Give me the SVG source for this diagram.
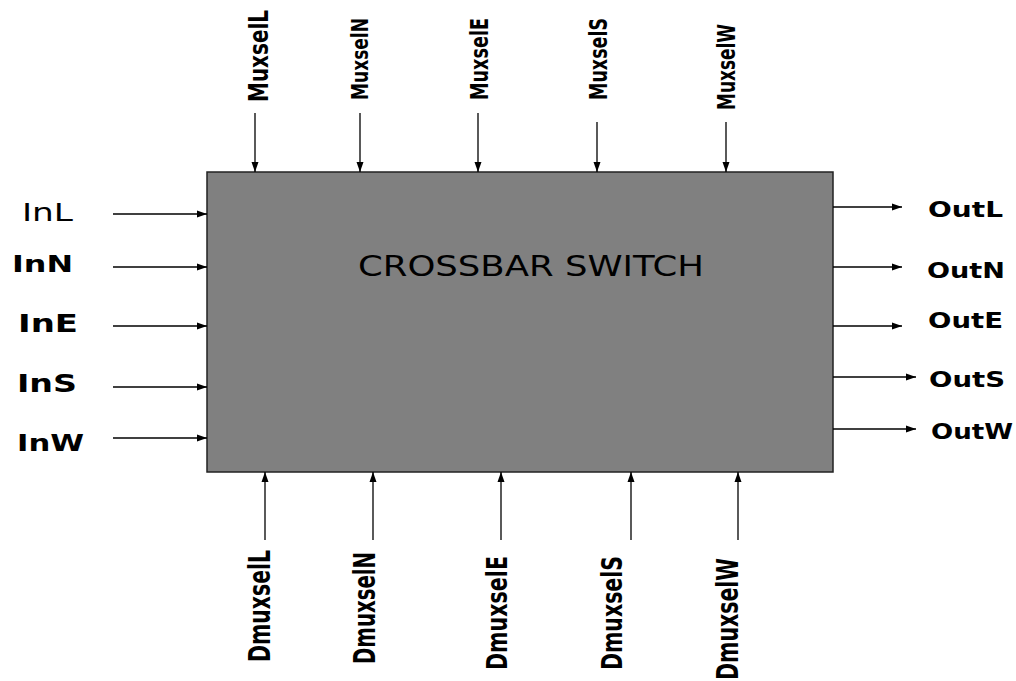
<svg xmlns="http://www.w3.org/2000/svg" width="1016" height="681" viewBox="0 0 1016 681">
<defs>
<marker id="ah" markerUnits="userSpaceOnUse" markerWidth="11" markerHeight="8" refX="10" refY="4" orient="auto">
<path d="M0,0.5 L10,4 L0,7.5 z" fill="#000"/>
</marker>
<style>
.c line{stroke:#000;stroke-width:1.3;marker-end:url(#ah);}
.h{font-family:"DejaVu Sans","Verdana",sans-serif;fill:#000;}
.b{font-weight:bold;}
.v{font-family:"Liberation Sans Narrow","DejaVu Sans Condensed","Liberation Sans",sans-serif;font-weight:bold;fill:#000;text-anchor:middle;}
</style>
</defs>
<rect width="1016" height="681" fill="#fff"/>
<g id="crossbar">
<rect x="207" y="172" width="626" height="300" fill="#808080" stroke="#222" stroke-width="1.5"/>
<text class="h" x="358" y="276" font-size="29" textLength="346" lengthAdjust="spacingAndGlyphs">CROSSBAR SWITCH</text>
</g>
<g class="c" id="connectors">
<line x1="113" y1="214" x2="207" y2="214"/>
<line x1="113" y1="267" x2="207" y2="267"/>
<line x1="113" y1="326" x2="207" y2="326"/>
<line x1="113" y1="387" x2="207" y2="387"/>
<line x1="113" y1="438" x2="207" y2="438"/>
<line x1="833" y1="207" x2="902" y2="207"/>
<line x1="833" y1="267" x2="902" y2="267"/>
<line x1="833" y1="326" x2="902" y2="326"/>
<line x1="833" y1="377" x2="916" y2="377"/>
<line x1="833" y1="429" x2="916" y2="429"/>
<line x1="255" y1="113" x2="255" y2="172"/>
<line x1="360" y1="113" x2="360" y2="172"/>
<line x1="478" y1="113" x2="478" y2="172"/>
<line x1="597" y1="122" x2="597" y2="172"/>
<line x1="726" y1="122" x2="726" y2="172"/>
<line x1="265" y1="540" x2="265" y2="472"/>
<line x1="373" y1="540" x2="373" y2="472"/>
<line x1="501" y1="540" x2="501" y2="472"/>
<line x1="631" y1="540" x2="631" y2="472"/>
<line x1="738" y1="540" x2="738" y2="472"/>
</g>
<g id="inputs">
<text id="InL" class="h" x="22" y="221" font-size="24" textLength="51" lengthAdjust="spacingAndGlyphs">InL</text>
<text id="InN" class="h b" x="12" y="272" font-size="23" textLength="61" lengthAdjust="spacingAndGlyphs">InN</text>
<text id="InE" class="h b" x="18" y="332" font-size="24" textLength="60" lengthAdjust="spacingAndGlyphs">InE</text>
<text id="InS" class="h b" x="17" y="392" font-size="24" textLength="60" lengthAdjust="spacingAndGlyphs">InS</text>
<text id="InW" class="h b" x="17" y="451" font-size="23" textLength="67" lengthAdjust="spacingAndGlyphs">InW</text>
</g>
<g id="outputs">
<text id="OutL" class="h b" x="928" y="217" font-size="21" textLength="75" lengthAdjust="spacingAndGlyphs">OutL</text>
<text id="OutN" class="h b" x="927" y="278" font-size="21" textLength="78" lengthAdjust="spacingAndGlyphs">OutN</text>
<text id="OutE" class="h b" x="928" y="328" font-size="21" textLength="75" lengthAdjust="spacingAndGlyphs">OutE</text>
<text id="OutS" class="h b" x="929" y="387" font-size="21" textLength="76" lengthAdjust="spacingAndGlyphs">OutS</text>
<text id="OutW" class="h b" x="931" y="439" font-size="21" textLength="82" lengthAdjust="spacingAndGlyphs">OutW</text>
</g>
<g id="muxsel">
<text id="MuxselL" class="v" transform="translate(268,56) rotate(-90)" font-size="26" textLength="92" lengthAdjust="spacingAndGlyphs">MuxselL</text>
<text id="MuxselN" class="v" transform="translate(368,59) rotate(-90)" font-size="23" textLength="82" lengthAdjust="spacingAndGlyphs">MuxselN</text>
<text id="MuxselE" class="v" transform="translate(488,59) rotate(-90)" font-size="24" textLength="82" lengthAdjust="spacingAndGlyphs">MuxselE</text>
<text id="MuxselS" class="v" transform="translate(607,59) rotate(-90)" font-size="25" textLength="82" lengthAdjust="spacingAndGlyphs">MuxselS</text>
<text id="MuxselW" class="v" transform="translate(735,67) rotate(-90)" font-size="24" textLength="86" lengthAdjust="spacingAndGlyphs">MuxselW</text>
</g>
<g id="dmuxsel">
<text id="DmuxselL" class="v" transform="translate(270,606) rotate(-90)" font-size="30" textLength="112" lengthAdjust="spacingAndGlyphs">DmuxselL</text>
<text id="DmuxselN" class="v" transform="translate(375,608) rotate(-90)" font-size="30" textLength="112" lengthAdjust="spacingAndGlyphs">DmuxselN</text>
<text id="DmuxselE" class="v" transform="translate(507,613) rotate(-90)" font-size="28" textLength="114" lengthAdjust="spacingAndGlyphs">DmuxselE</text>
<text id="DmuxselS" class="v" transform="translate(622,613) rotate(-90)" font-size="29" textLength="114" lengthAdjust="spacingAndGlyphs">DmuxselS</text>
<text id="DmuxselW" class="v" transform="translate(738,619) rotate(-90)" font-size="30" textLength="122" lengthAdjust="spacingAndGlyphs">DmuxselW</text>
</g>
</svg>
